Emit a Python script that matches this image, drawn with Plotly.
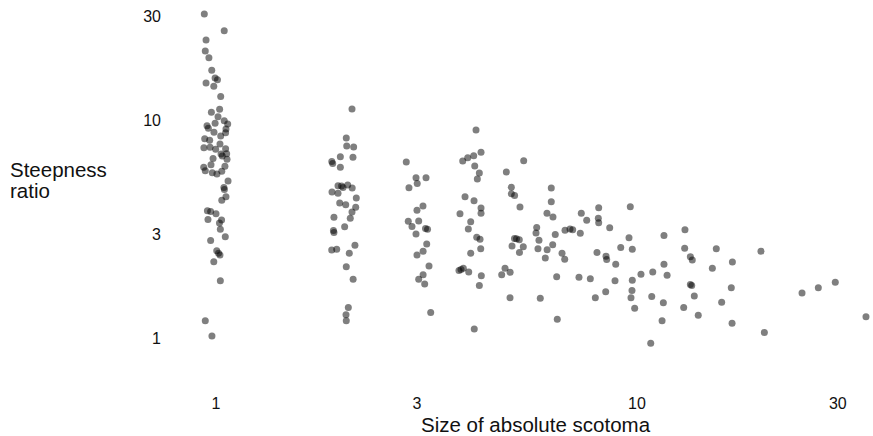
import plotly.graph_objects as go

# Size of absolute scotoma (jittered) and steepness ratio, grouped by scotoma size
size_1 = [0.938, 1.046, 0.947, 0.943, 0.962, 0.977, 0.995, 1.008, 0.947, 0.988, 1.026, 1.020, 0.975,
          1.011, 1.046, 0.995, 1.066, 0.952, 0.959, 1.056, 0.989, 1.054, 1.026, 0.940, 0.966, 1.022,
          0.936, 0.968, 0.998, 1.054, 1.028, 1.060, 1.035, 1.062, 0.984, 0.973, 1.050, 0.935, 0.943,
          0.980, 1.032, 1.005, 1.068, 1.044, 1.047, 1.056, 1.032, 0.954, 0.971, 1.000, 0.957, 1.031,
          1.019, 1.024, 1.052, 0.971, 1.004, 1.014, 1.022, 0.988, 1.024, 0.943, 0.978]
ratio_1 = [30.6, 25.7, 23.3, 20.7, 19.3, 16.9, 15.6, 15.3, 14.8, 14.3, 12.8, 11.2, 10.85,
           10.35, 9.93, 9.66, 9.59, 9.42, 9.16, 9.09, 8.78, 8.75, 8.45, 8.21, 8.07, 7.76,
           7.46, 7.50, 7.34, 7.38, 6.98, 7.01, 6.84, 6.60, 6.65, 6.24, 6.13, 6.07, 5.85,
           5.73, 5.82, 5.65, 5.25, 4.90, 4.80, 4.45, 4.28, 3.83, 3.80, 3.71, 3.50, 3.48,
           3.37, 3.15, 2.91, 2.80, 2.51, 2.45, 2.40, 2.24, 1.83, 1.20, 1.02]

size_2 = [2.104, 2.039, 2.044, 2.123, 1.974, 2.115, 1.884, 1.893, 1.974, 1.949, 1.987, 2.003,
          2.055, 2.106, 1.886, 1.949, 2.154, 1.967, 2.033, 2.147, 2.104, 1.906, 2.084, 2.021,
          1.901, 1.906, 2.138, 1.883, 1.935, 2.073, 2.039, 2.117, 2.062, 2.036, 2.039]
ratio_2 = [11.23, 8.27, 7.60, 7.52, 6.79, 6.74, 6.45, 6.32, 6.07, 4.99, 4.98, 4.90,
           5.03, 4.88, 4.67, 4.61, 4.39, 4.16, 4.09, 3.98, 3.78, 3.58, 3.54, 3.24,
           3.11, 3.05, 2.66, 2.53, 2.55, 2.45, 2.12, 1.86, 1.38, 1.28, 1.20]

size_3 = [2.831, 2.986, 3.154, 3.006, 2.873, 3.102, 3.002, 2.862, 3.030, 2.921, 3.145, 3.180,
          2.986, 3.166, 3.104, 3.002, 3.206, 3.104, 3.030, 3.131, 3.236]
ratio_3 = [6.42, 5.44, 5.44, 5.12, 4.89, 4.03, 3.85, 3.43, 3.44, 3.25, 3.18, 3.15,
           3.00, 2.70, 2.50, 2.40, 2.14, 1.95, 1.86, 1.77, 1.31]

size_4 = [4.146, 3.855, 3.962, 4.094, 4.261, 4.117, 4.222, 4.176, 3.904, 4.101, 4.261, 4.261,
          3.798, 4.027, 3.975, 4.162, 4.238, 4.254, 4.027, 3.777, 3.868, 3.819, 3.984, 4.268,
          4.222, 4.106]
ratio_4 = [9.00, 6.49, 6.72, 6.86, 7.11, 6.15, 5.71, 5.36, 4.45, 4.26, 3.95, 3.73,
           3.71, 3.41, 3.16, 2.90, 2.84, 2.57, 2.45, 2.04, 2.09, 2.06, 2.01, 1.93,
           1.74, 1.10]

size_5 = [5.381, 4.894, 5.029, 5.029, 5.120, 5.273, 5.117, 5.173, 5.253, 5.048, 5.369, 5.258,
          4.859, 4.771, 4.996, 4.993]
ratio_5 = [6.51, 5.77, 4.91, 4.59, 4.51, 3.99, 2.86, 2.85, 2.82, 2.64, 2.62, 2.47,
           2.09, 1.95, 2.00, 1.53]

size_6 = [6.257, 6.257, 6.112, 6.316, 5.778, 5.756, 6.395, 5.850, 6.306, 5.818, 6.117, 6.056,
          6.445, 5.892, 6.466]
ratio_6 = [4.88, 4.22, 3.73, 3.59, 3.21, 3.03, 2.98, 2.81, 2.68, 2.57, 2.54, 2.33,
           1.91, 1.52, 1.22]

size_7_8 = [6.636, 6.734, 6.745, 6.932, 7.035, 7.374, 7.334, 7.281, 7.595,
            8.110, 8.093, 8.110, 8.613, 8.035, 8.441, 8.472, 7.747, 8.427, 7.962]
ratio_7_8 = [2.45, 2.30, 3.12, 3.16, 3.14, 3.73, 3.02, 1.90, 3.47,
             3.96, 3.54, 3.38, 3.20, 2.47, 2.37, 2.29, 1.87, 1.63, 1.53]

size_9_12 = [9.640, 9.572, 9.149, 9.746, 8.902, 10.22, 8.867, 9.746, 9.730, 9.677, 9.874,
             11.59, 11.59, 10.90, 11.79, 10.84, 11.55, 11.47, 10.78]
ratio_9_12 = [4.00, 2.88, 2.60, 2.55, 2.18, 1.96, 1.83, 1.84, 1.65, 1.53, 1.37,
              2.95, 2.18, 2.01, 1.94, 1.55, 1.45, 1.20, 0.946]

size_13_plus = [13.00, 12.98, 13.39, 13.53, 13.39, 13.49, 13.68, 12.91, 13.98,
                15.43, 15.10, 16.85, 16.75, 15.89, 16.82, 19.70, 20.07, 24.66, 26.96,
                29.58, 34.99, 36.75]
ratio_13_plus = [3.14, 2.58, 2.36, 2.28, 1.76, 1.74, 1.56, 1.38, 1.27,
                 2.57, 2.09, 2.23, 1.70, 1.46, 1.17, 2.50, 1.06, 1.61, 1.70,
                 1.80, 1.25, 0.949]

tick_vals = [1, 3, 10, 30]
tick_text = ["1", "3", "10", "30"]

sizes = size_1 + size_2 + size_3 + size_4 + size_5 + size_6 + size_7_8 + size_9_12 + size_13_plus
ratios = ratio_1 + ratio_2 + ratio_3 + ratio_4 + ratio_5 + ratio_6 + ratio_7_8 + ratio_9_12 + ratio_13_plus

FONT = "Liberation Sans, Arial, sans-serif"

fig = go.Figure(go.Scatter(
    x=sizes, y=ratios, mode="markers",
    marker=dict(size=7, color="rgba(0,0,0,0.5)", line=dict(width=0)),
    cliponaxis=False, hoverinfo="skip",
))

fig.update_layout(
    width=873, height=436,
    margin=dict(l=195, r=0, t=5, b=86, autoexpand=False),
    paper_bgcolor="white", plot_bgcolor="white",
    showlegend=False,
    font=dict(family=FONT, color="#111111"),
    xaxis=dict(type="log", range=[-0.0499, 1.5606], tickvals=tick_vals, ticktext=tick_text,
               showgrid=False, zeroline=False, showline=False, ticks="",
               tickfont=dict(size=16, family=FONT, color="#111111"),
               ticklabelstandoff=42),
    yaxis=dict(type="log", range=[-0.05505, 1.5275], tickvals=tick_vals, ticktext=tick_text,
               showgrid=False, zeroline=False, showline=False, ticks="",
               tickfont=dict(size=16, family=FONT, color="#111111"),
               ticklabelstandoff=33),
    annotations=[
        dict(text="Steepness", xref="paper", yref="paper", x=-0.2758, y=0.5246,
             xanchor="left", yanchor="middle", showarrow=False,
             font=dict(size=20.5, family=FONT, color="#111111")),
        dict(text="ratio", xref="paper", yref="paper", x=-0.2758, y=0.4609,
             xanchor="left", yanchor="middle", showarrow=False,
             font=dict(size=20.5, family=FONT, color="#111111")),
        dict(text="Size of absolute scotoma", xref="paper", yref="paper", x=0.503, y=-0.2165,
             xanchor="center", yanchor="middle", showarrow=False,
             font=dict(size=20.5, family=FONT, color="#111111")),
    ],
)

fig.write_html("out.html", config={"displayModeBar": False},
               post_script="document.body.style.margin='0';document.body.style.overflow='hidden';")
